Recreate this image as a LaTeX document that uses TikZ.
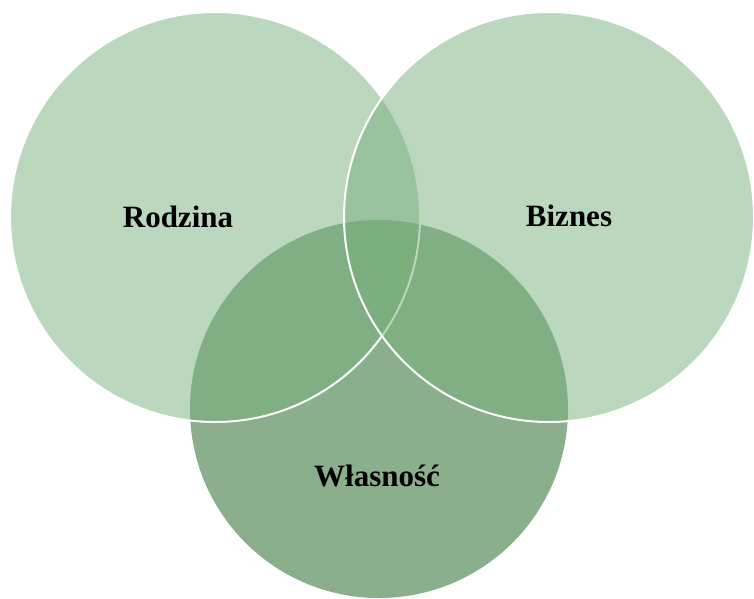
\documentclass[tikz,border=0pt]{standalone}
\usepackage{fontspec}
\setmainfont{Liberation Serif}
\definecolor{vennlight}{HTML}{77AF7B}
\definecolor{vennbase}{HTML}{8BAF8D}
\begin{document}
\begin{tikzpicture}[x=1pt,y=-1pt,
  ring/.style={fill=vennlight, fill opacity=0.5, draw=white, draw opacity=1, line width=2pt},
  caption/.style={font=\fontsize{31}{36}\selectfont\bfseries, anchor=base, text=black, inner sep=0pt}]
\useasboundingbox (0,0) rectangle (754,598);
% bottom set, opaque, underneath the two others
\fill[vennbase] (379,409) circle[radius=189pt];
% left and right sets, half transparent with white rims
\path[ring] (215,217) circle[radius=205pt];
\path[ring] (549,217) circle[radius=205pt];
% set names
\node[caption] (rodzina) at (178,227) {Rodzina};
\node[caption] (biznes) at (569,226) {Biznes};
\node[caption] (wlasnosc) at (377,486) {Własność};
\end{tikzpicture}
\end{document}
